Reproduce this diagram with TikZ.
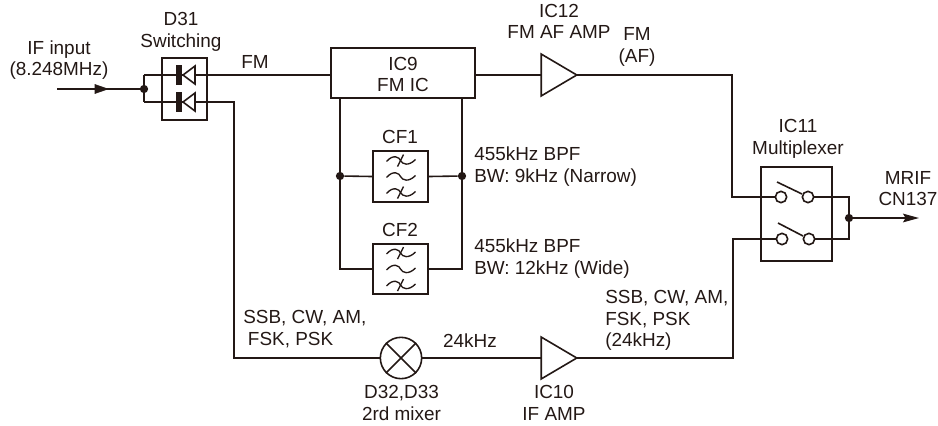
\documentclass[tikz,border=0pt]{standalone}
\usepackage{fontspec}
\setmainfont{Liberation Sans}
\usetikzlibrary{arrows.meta}
\definecolor{ink}{HTML}{231815}
\tikzset{
  wire/.style={draw=ink,line width=1.2pt},
  lbl/.style={text=ink,inner sep=0pt,align=center,font=\fontsize{14.2}{16.3}\selectfont},
  lbll/.style={lbl,align=left,anchor=west},
  boxn/.style={draw=ink,line width=1.6pt,inner sep=0pt,fill=white},
  spot/.style={circle,fill=ink,inner sep=0pt,minimum size=6.2pt},
  contact/.style={circle,draw=ink,line width=1.2pt,fill=white,inner sep=0pt,minimum size=8.5pt},
  ampn/.style={inner sep=0pt,minimum width=26.25pt,minimum height=31pt},
  tip/.style={-{Stealth[length=12pt,width=6.5pt,inset=2pt]}},
}
\newcommand{\ampshape}[1]{\draw[draw=ink,line width=1.2pt,fill=white,line join=miter] (#1.north west)--(#1.east)--(#1.south west)--cycle;}
\newcommand{\tildeat}[2]{\draw[draw=ink,line width=1pt] (#1-14,#2+1) .. controls (#1-7,#2-7) and (#1-1,#2-3) .. (#1,#2) .. controls (#1+2,#2+4) and (#1+8,#2+6) .. (#1+15,#2-1);}
\newcommand{\filtershape}[2]{%
 \tildeat{#1}{#2-16}\tildeat{#1}{#2}\tildeat{#1}{#2+16}%
 \draw[draw=ink,line width=1pt] (#1-3,#2-10)--(#1+3,#2-22) (#1-3,#2+22)--(#1+3,#2+10);}
\newcommand{\diodeshape}[1]{%
 \fill[ink] (176,#1-10) rectangle (182,#1+10);
 \draw[draw=ink,line width=1.2pt,fill=white] (183,#1)--(195,#1-9)--(195,#1+9)--cycle;}
\begin{document}
\begin{tikzpicture}[x=0.75pt,y=-0.75pt]
\useasboundingbox (0,0) rectangle (938,425);
% nodes
\node[boxn,minimum width=33.75pt,minimum height=46.5pt] (d31) at (184.5,89) {};
\node[boxn,minimum width=108pt,minimum height=37.5pt] (ic9) at (403,73) {};
\node[boxn,minimum width=41.25pt,minimum height=38.25pt] (cf1) at (400.5,176.5) {};
\node[boxn,minimum width=41.25pt,minimum height=37.5pt] (cf2) at (400.5,269) {};
\node[boxn,minimum width=53.25pt,minimum height=70.5pt] (ic11) at (796.5,214) {};
\node[ampn] (ic12) at (559,75) {};
\node[ampn] (ic10) at (559,358) {};
\node[circle,draw=ink,line width=1.2pt,inner sep=0pt,minimum size=31pt] (mix) at (401,358) {};
\coordinate (in) at (57,89);
\node[spot] (j1) at (144,89) {};
\node[spot] (j2) at (340,176) {};
\node[spot] (j3) at (462,176) {};
\node[spot] (j4) at (849,218) {};
\coordinate (out) at (919,218);
\coordinate (d1l) at (144,75); \coordinate (d2l) at (144,102);
\coordinate (d1r) at (331,75); \coordinate (d2r) at (234,102);
\coordinate (low) at (234,358);
\coordinate (fmc) at (732,75);
\coordinate (c1) at (732,197); \coordinate (c2) at (733,239);
\coordinate (p1) at (733,358);
\coordinate (o1) at (849,197); \coordinate (o2) at (849,239);
\coordinate (t1) at (340,98); \coordinate (t2) at (462,98);
\coordinate (b1) at (340,269); \coordinate (b2) at (462,269);
\node[contact] (s1a) at (781,197) {};
\node[contact] (s1b) at (808,197) {};
\node[contact] (s2a) at (782,239) {};
\node[contact] (s2b) at (809,239) {};
% connectors
\draw[wire] (in) -- (j1);
\path[draw=ink,fill=ink] (95,84.5) -- (108,89) -- (95,93.5) -- cycle;
\draw[wire] (d1l) -- (d2l);
\draw[wire] (d1l) -- (d1r);
\draw[wire] (d2l) -- (d2r) -- (low) -- (mix.west);
\draw[wire] (mix.east) -- (ic10.west);
\draw[wire] (ic10.east) -- (p1) -- (c2) -- (s2a.west);
\draw[wire] (ic9.east |- ic12.west) -- (ic12.west);
\draw[wire] (ic12.east) -- (fmc) -- (c1) -- (s1a.west);
\draw[wire] (s1b.east) -- (o1) -- (o2) -- (s2b.east);
\draw[wire,tip] (j4) -- (out);
\draw[wire] (t1) -- (b1) -- (cf2.west);
\draw[wire] (t2) -- (b2) -- (cf2.east);
\draw[wire] (j2) -- (cf1.west);
\draw[wire] (cf1.east) -- (j3);
% redraw symbols above wires
\diodeshape{75}\diodeshape{102}
\ampshape{ic12}\ampshape{ic10}
\draw[draw=ink,line width=1.2pt] (mix.45)--(mix.225) (mix.135)--(mix.315);
\filtershape{400.5}{176.5}\filtershape{400.5}{269}
\draw[draw=ink,line width=1.2pt] (777,182)--(802,194) (778,223)--(803,236);
% labels
\node[lbl] (t_if) at (59,60) {IF input\\(8.248MHz)};
\node[lbl] (t_d31) at (181,32) {D31\\Switching};
\node[lbl] (t_fm1) at (255,62) {FM};
\node[lbl] (t_ic9) at (403,74.5) {IC9\\FM IC};
\node[lbl] (t_ic12) at (559,21.5) {IC12\\FM AF AMP};
\node[lbl] (t_fm2) at (637,47) {FM\\(AF)};
\node[lbl] (t_cf1) at (400,137) {CF1};
\node[lbl] (t_cf2) at (400,230) {CF2};
\node[lbll] (t_bw1) at (474,166.5) {455kHz BPF\\BW: 9kHz (Narrow)};
\node[lbll] (t_bw2) at (474,258.5) {455kHz BPF\\BW: 12kHz (Wide)};
\node[lbl] (t_ic11) at (798,138.5) {IC11\\Multiplexer};
\node[lbl] (t_mrif) at (908,188.5) {MRIF\\CN137};
\node[lbll] (t_ssb1) at (243,329) {SSB, CW, AM,\\\hspace*{3.5pt}FSK, PSK};
\node[lbll] (t_ssb2) at (605,320.5) {SSB, CW, AM,\\FSK, PSK\\(24kHz)};
\node[lbl] (t_24) at (470,341) {24kHz};
\node[lbl] (t_mix) at (401.5,403) {D32,D33\\2rd mixer};
\node[lbl] (t_ic10) at (554,403) {IC10\\IF AMP};
\end{tikzpicture}
\end{document}
